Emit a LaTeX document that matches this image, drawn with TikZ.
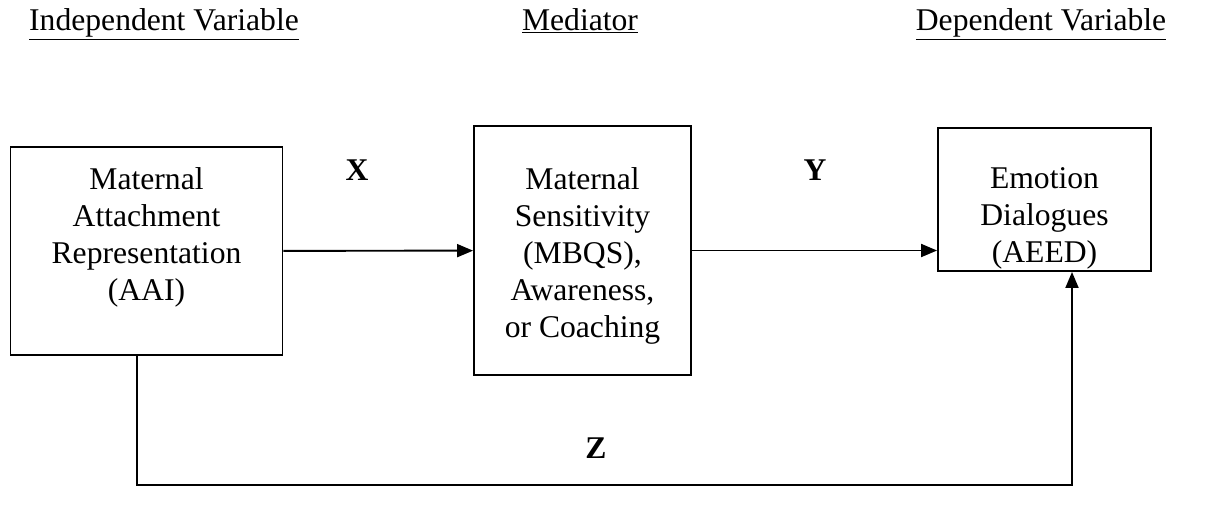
\documentclass[tikz,border=0pt]{standalone}
\usepackage{fontspec}
\setmainfont{Liberation Serif}
\usetikzlibrary{arrows.meta}

\begin{document}
\begin{tikzpicture}[x=0.02cm,y=-0.02cm,>={Triangle[length=0.32cm,width=0.26cm]},
  thick,box/.style={rectangle,draw,line width=1.1pt},
  box text/.style={align=center,anchor=north,inner sep=0pt,font=\fontsize{18}{21}\selectfont},
  heading/.style={anchor=base,font=\fontsize{18}{21}\selectfont},
  path label/.style={font=\fontsize{18}{21}\selectfont\bfseries}]

  \useasboundingbox (0,0) rectangle (1210,512);

  \node[heading] (iv) at (164,30) {\underline{Independent Variable}};
  \node[heading] (med) at (580,30) {\underline{Mediator}};
  \node[heading] (dv) at (1041,30) {\underline{Dependent Variable}};

  \node[box,minimum width=5.44cm,minimum height=4.16cm] (aai) at (146.5,251) {};
  \node[box,minimum width=4.34cm,minimum height=4.98cm] (mbqs) at (582.5,250.5) {};
  \node[box,minimum width=4.26cm,minimum height=2.86cm] (aeed) at (1044.5,199.5) {};

  \node[box text] (aaitext) at (146.5,167) {Maternal\\Attachment\\Representation\\(AAI)};
  \node[box text] (mbqstext) at (582.5,167) {Maternal\\Sensitivity\\(MBQS),\\Awareness,\\or Coaching};
  \node[box text] (aeedtext) at (1044.5,167) {Emotion\\Dialogues\\(AEED)};

  \coordinate (zleft) at (137,485);
  \coordinate (zright) at (1072,485);

  \node[path label] (x) at (357,170) {X};
  \node[path label] (y) at (815,170) {Y};
  \node[path label] (z) at (596,448) {Z};

  \path[->,line width=1.1pt]
     (aai) edge (mbqs)
     (mbqs.east) edge (mbqs.east -| aeed.west);
  \draw[->,line width=1.1pt] (aai.south -| zleft) -- (zleft) -- (zright) -- (zright |- aeed.south);
\end{tikzpicture}
\end{document}
